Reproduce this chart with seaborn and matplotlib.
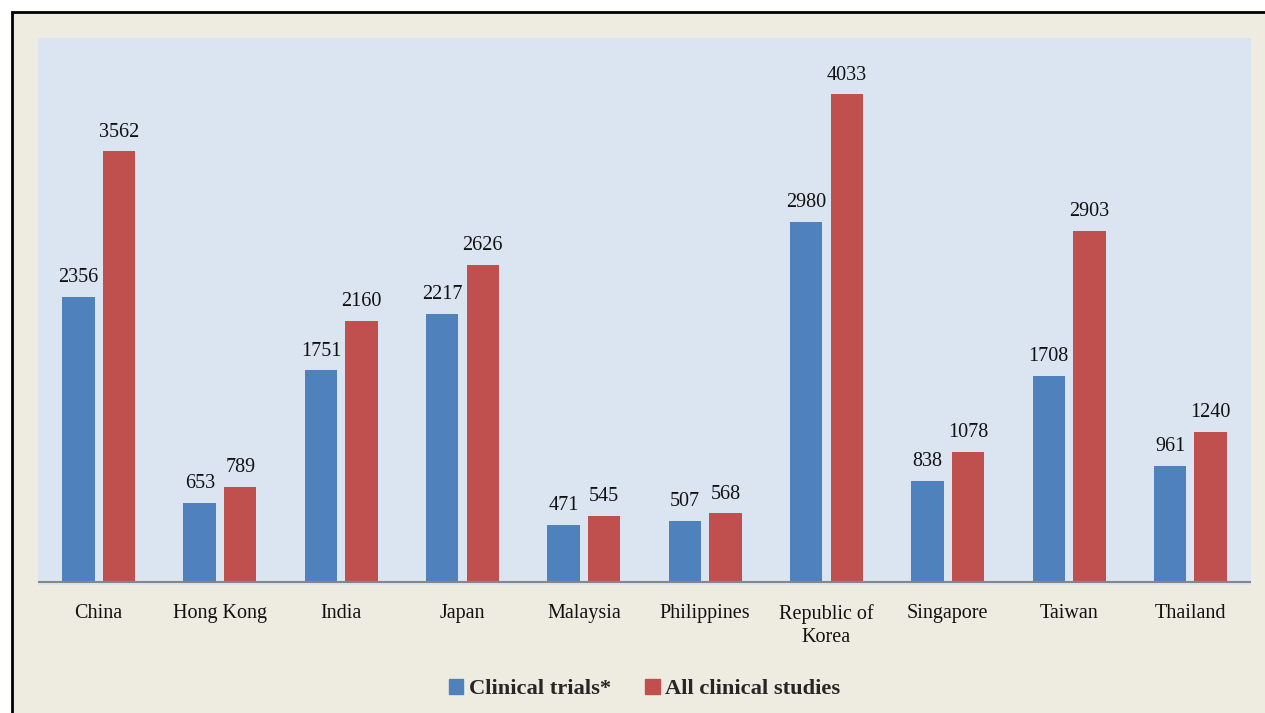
import matplotlib
matplotlib.use("Agg")
import matplotlib.pyplot as plt
import matplotlib.patches as mpatches
import pandas as pd
import seaborn as sns

# ==============================================================================: DATA
countries = ["China", "Hong Kong", "India", "Japan", "Malaysia", "Philippines",
             "Republic of\nKorea", "Singapore", "Taiwan", "Thailand"]
clinical_trials = [2356, 653, 1751, 2217, 471, 507, 2980, 838, 1708, 961]
all_studies = [3562, 789, 2160, 2626, 545, 568, 4033, 1078, 2903, 1240]
series_names = ["Clinical trials*", "All clinical studies"]

BLUE = "#4F81BD"
RED = "#C0504D"
BEIGE = "#EEECE1"
PLOT_BG = "#DBE5F1"


# ==============================================================================: PLOT
def ft_plot():
    df = pd.DataFrame({
        "country": countries * 2,
        "count": clinical_trials + all_studies,
        "series": [series_names[0]] * len(countries) + [series_names[1]] * len(countries),
    })

    sns.set_style("white")
    plt.rcParams["font.family"] = ["Liberation Serif", "DejaVu Serif"]

    fig = plt.figure(figsize=(12.65, 7.13), dpi=100)
    fig.patch.set_facecolor("white")

    # beige chart area with the black frame line on top / left
    frame = mpatches.Rectangle((11.5 / 1265, -0.1), 1.2, 1 - 12.5 / 713 + 0.1,
                               transform=fig.transFigure, facecolor=BEIGE,
                               edgecolor="black", linewidth=2, zorder=-10)
    fig.patches.append(frame)

    ax = fig.add_axes([38 / 1265, 1 - 585 / 713, (1251 - 38) / 1265, (585 - 38) / 713])
    ax.set_facecolor(PLOT_BG)

    sns.barplot(data=df, x="country", y="count", hue="series", palette=[BLUE, RED],
                width=0.668, gap=0.2, saturation=1, linewidth=0, ax=ax, legend=False)

    for cont in ax.containers:
        ax.bar_label(cont, padding=7, fontsize=14.5, color="#111111")

    ax.set_ylim(-25, 4500)
    ax.set_xlim(-0.5, len(countries) - 0.5)
    ax.axhline(0, color="#868686", linewidth=1.5, zorder=1)
    for s in ax.spines.values():
        s.set_visible(False)
    ax.set_yticks([])
    ax.set_xlabel("")
    ax.set_ylabel("")
    ax.tick_params(axis="x", length=0, pad=14, labelsize=14.5, labelcolor="#111111")
    for lbl in ax.get_xticklabels():
        lbl.set_linespacing(1.25)
        lbl.set_verticalalignment("top")

    handles = [mpatches.Patch(color=BLUE), mpatches.Patch(color=RED)]
    ax.legend(handles, series_names, loc="center", bbox_to_anchor=(0.5, -0.19),
              ncol=2, frameon=False, handlelength=0.65, handleheight=0.65,
              handletextpad=0.25, columnspacing=1.5,
              prop={"family": "Liberation Serif", "weight": "bold", "size": 16.2})

    fig.savefig("out.png", dpi=100, facecolor=fig.get_facecolor())


# ==============================================================================: MAIN
def main():
    ft_plot()


if __name__ == "__main__":
    main()
